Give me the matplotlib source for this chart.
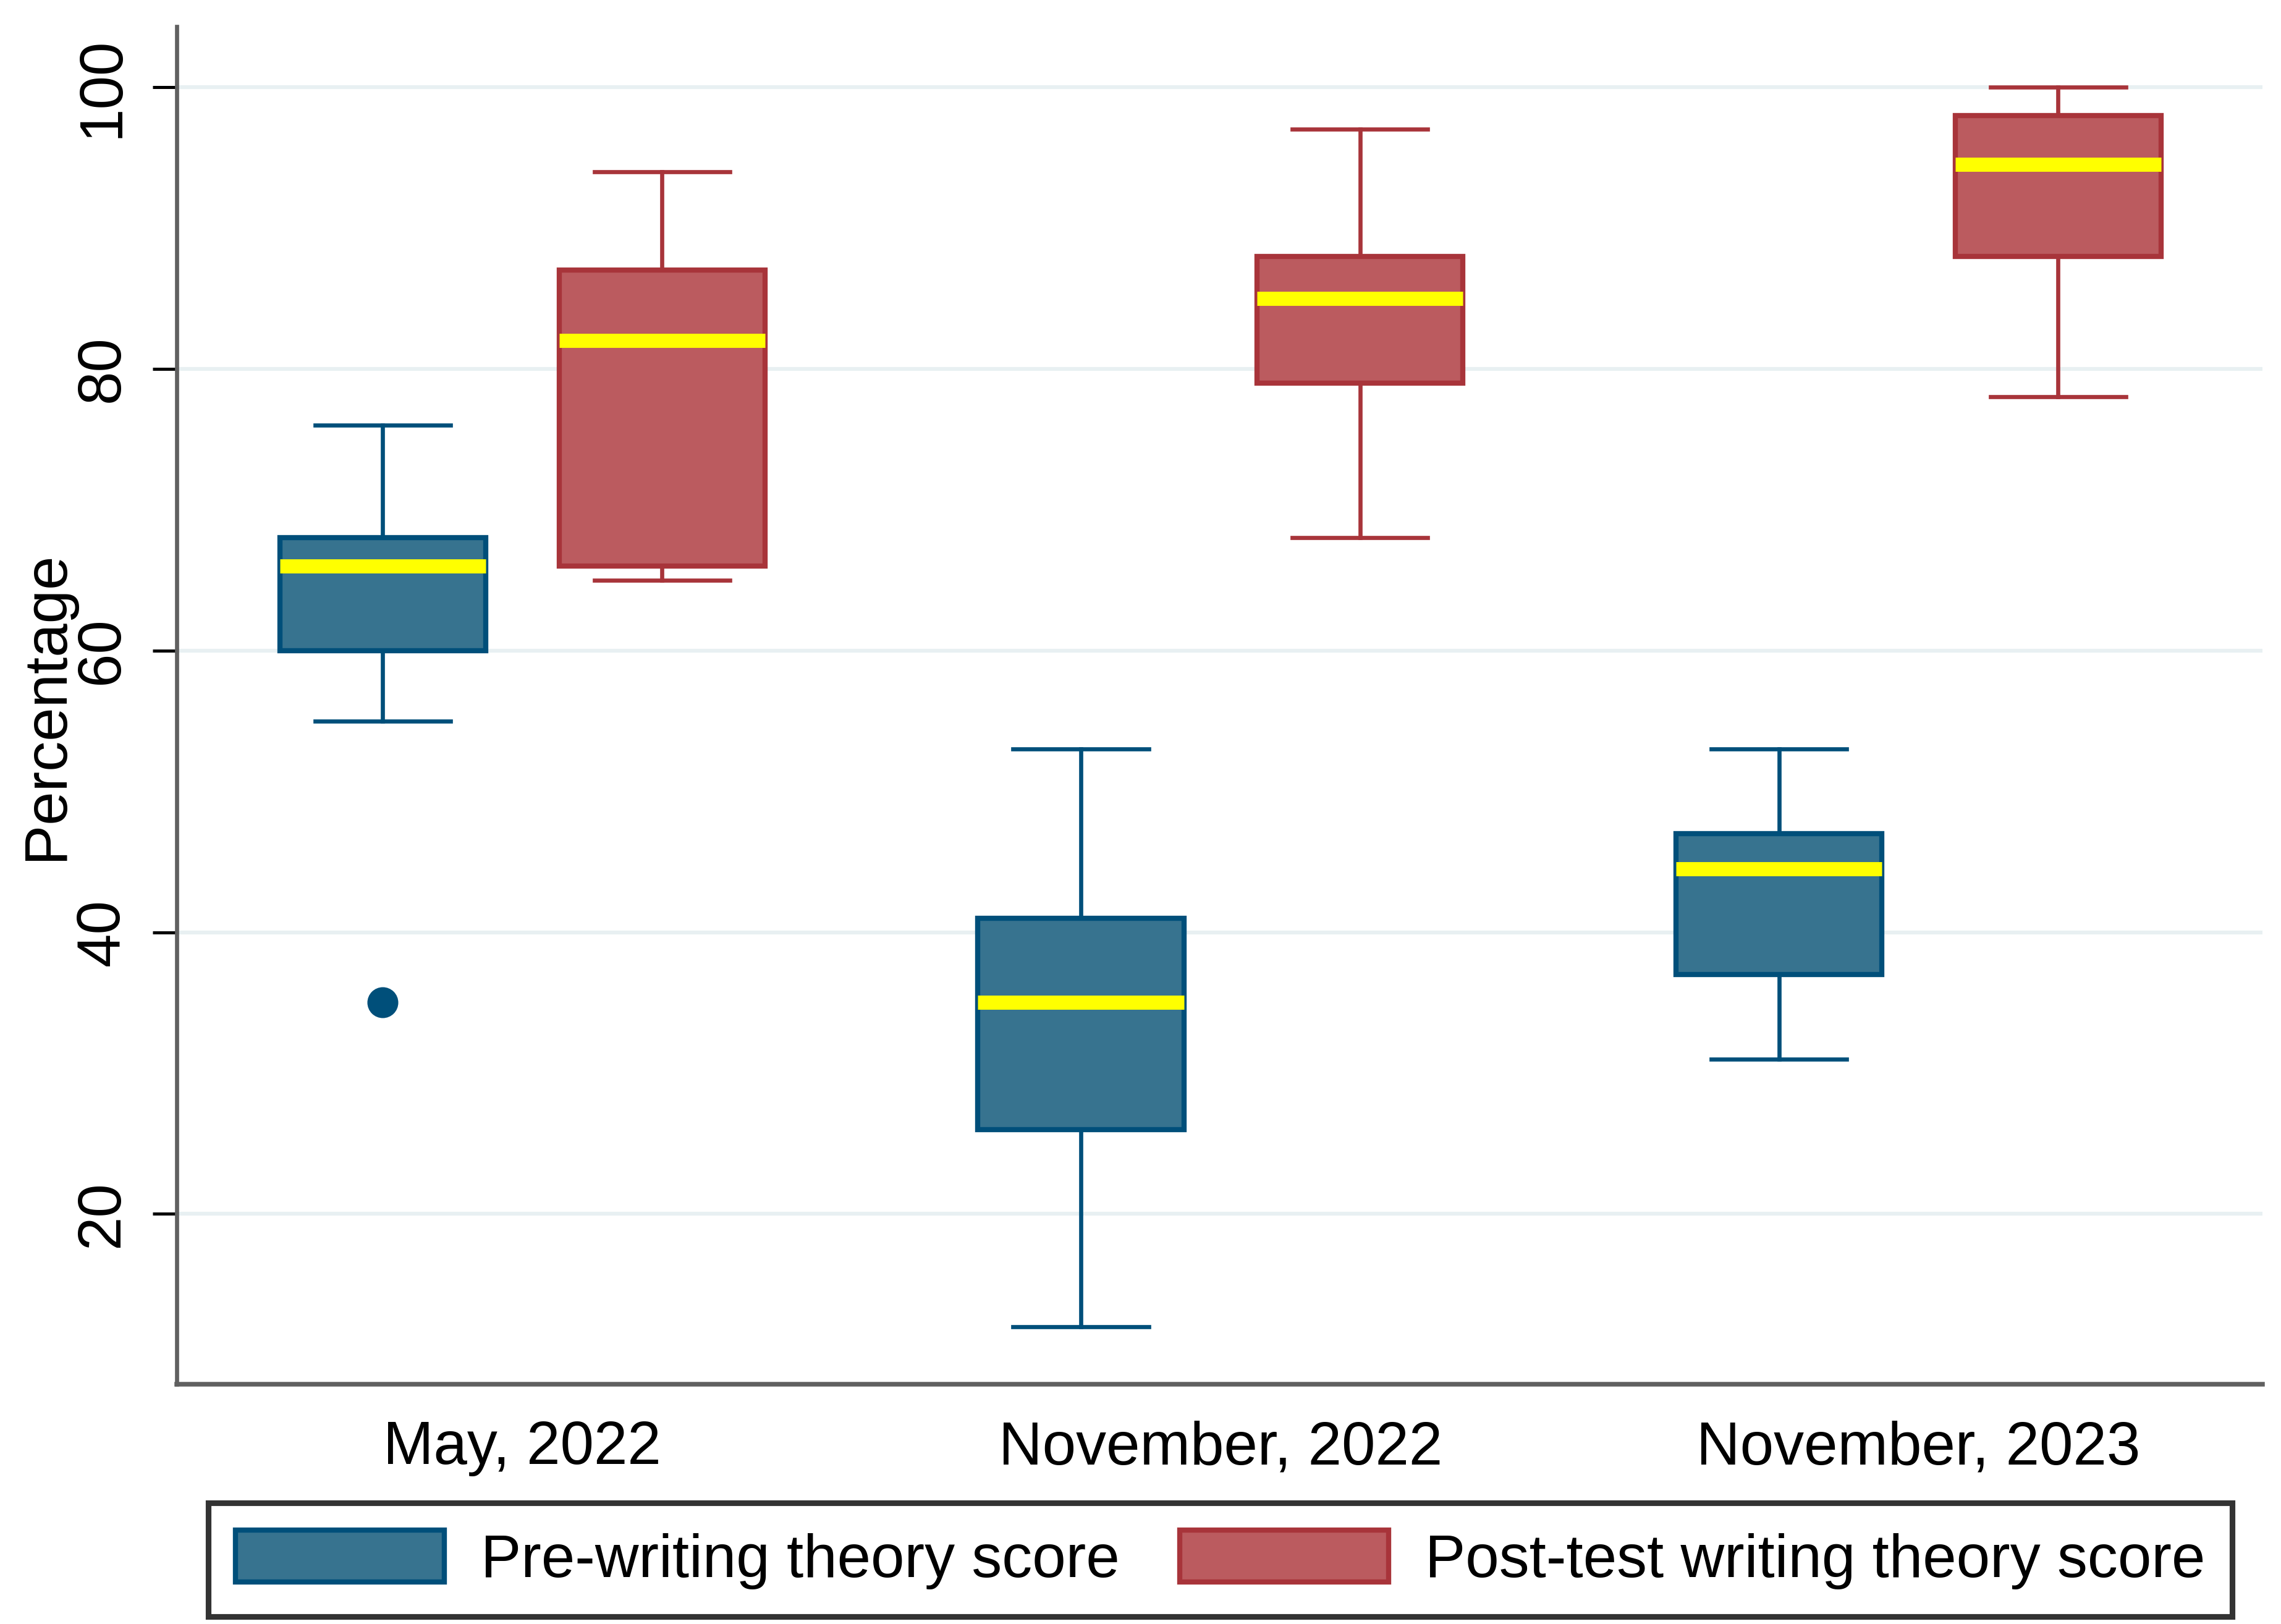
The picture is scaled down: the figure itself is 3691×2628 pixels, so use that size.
import matplotlib.pyplot as plt
from matplotlib.patches import Patch

plt.rcParams['font.family'] = ['Liberation Sans', 'DejaVu Sans']

# data (percent)
groups = ["May, 2022", "November, 2022", "November, 2023"]
pre_whislo = [55, 12, 31]
pre_q1 = [60, 26, 37]
pre_med = [66, 35, 44.5]
pre_q3 = [68, 41, 47]
pre_whishi = [76, 53, 53]
pre_fliers = [[35], [], []]

post_whislo = [65, 68, 78]
post_q1 = [66, 79, 88]
post_med = [82, 85, 94.5]
post_q3 = [87, 88, 98]
post_whishi = [94, 97, 100]
post_fliers = [[], [], []]

yticks = [20, 40, 60, 80, 100]

pre_fill = "#37738f"
pre_edge = "#004f7a"
post_fill = "#bb5b5f"
post_edge = "#a8343a"


def make_stats(lo, q1, med, q3, hi, fl):
    stats = []
    for i in range(len(lo)):
        stats.append(dict(whislo=lo[i], q1=q1[i], med=med[i], q3=q3[i],
                          whishi=hi[i], fliers=fl[i]))
    return stats


fig = plt.figure(figsize=(3691 / 300, 2628 / 300), dpi=300)
ax = fig.add_axes([0.0775, 0.1476, 0.9145, 0.836])

offset = 0.2
width = 0.295
for stats, shift, fill, edge in [
        (make_stats(pre_whislo, pre_q1, pre_med, pre_q3, pre_whishi, pre_fliers), -offset, pre_fill, pre_edge),
        (make_stats(post_whislo, post_q1, post_med, post_q3, post_whishi, post_fliers), offset, post_fill, post_edge)]:
    pos = [i + shift for i in range(len(groups))]
    ax.bxp(stats, positions=pos, widths=width, patch_artist=True,
           showfliers=True, manage_ticks=False,
           boxprops=dict(facecolor=fill, edgecolor=edge, linewidth=2.0),
           whiskerprops=dict(color=edge, linewidth=1.6),
           capprops=dict(color=edge, linewidth=1.6),
           capwidths=0.194,
           medianprops=dict(color="#ffff00", linewidth=5.5, solid_capstyle='butt'),
           flierprops=dict(marker='o', markerfacecolor=edge, markeredgecolor=edge,
                           markersize=11))

ax.set_xlim(-0.495, 2.493)
ax.set_ylim(7.9, 104.3)
ax.set_xticks(range(len(groups)))
ax.set_xticklabels(groups, fontsize=23.5)
ax.tick_params(axis='x', length=0, pad=14)

ax.set_yticks(yticks)
ax.set_yticklabels([str(t) for t in yticks], fontsize=23.5, rotation=90, va='center')
ax.tick_params(axis='y', length=9.4, width=1.2, pad=8.5, color='black')

ax.grid(axis='y', color='#e8f0f2', linewidth=1.5)
ax.set_axisbelow(True)

ax.spines['top'].set_visible(False)
ax.spines['right'].set_visible(False)
ax.spines['left'].set_color('#606060')
ax.spines['left'].set_linewidth(1.6)
ax.spines['bottom'].set_color('#606060')
ax.spines['bottom'].set_linewidth(1.8)

ax.set_ylabel("Percentage", fontsize=23.5)
ax.yaxis.set_label_coords(-0.049, 0.5)

handles = [Patch(facecolor=pre_fill, edgecolor=pre_edge, linewidth=2.0, label="Pre-writing theory score"),
           Patch(facecolor=post_fill, edgecolor=post_edge, linewidth=2.0, label="Post-test writing theory score")]
leg = fig.legend(handles=handles, loc='center', bbox_to_anchor=(0.535, 0.0396), ncol=2,
                 fontsize=23.5, frameon=True, fancybox=False, edgecolor='black',
                 handlelength=3.45, handleheight=0.95, handletextpad=0.6,
                 columnspacing=1.0, borderpad=0.45, borderaxespad=0)
leg.get_frame().set_linewidth(2.2)

fig.savefig("out.png", dpi=300, facecolor='white')
